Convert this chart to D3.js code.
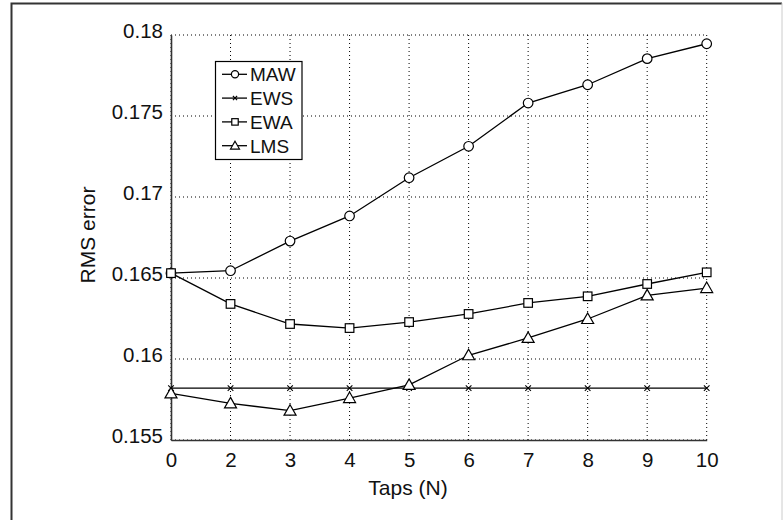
<!DOCTYPE html>
<html>
<head>
<meta charset="utf-8">
<script src="https://cdn.jsdelivr.net/npm/d3@7"></script>
<style>
  body { margin: 0; background: #fff; }
  svg { display: block; font-family: "Liberation Sans", Arial, sans-serif; }
</style>
</head>
<body>
<svg id="chart" width="784" height="520"></svg>
<script>
// taps on the x axis (note: no 1)
const taps = ["0", "2", "3", "4", "5", "6", "7", "8", "9", "10"];
const maw = [0.1653, 0.16545, 0.16728, 0.16883, 0.17119, 0.17313, 0.1758, 0.17693, 0.17854, 0.17946];
const ews = [0.1582, 0.1582, 0.1582, 0.1582, 0.1582, 0.1582, 0.1582, 0.1582, 0.1582, 0.1582];
const ewa = [0.1653, 0.1634, 0.16216, 0.16191, 0.16228, 0.16278, 0.16346, 0.16387, 0.16463, 0.16535];
const lms = [0.15788, 0.15726, 0.15681, 0.15759, 0.1584, 0.16023, 0.1613, 0.16247, 0.16393, 0.16438];
const yTicks = [0.155, 0.16, 0.165, 0.17, 0.175, 0.18];
const seriesNames = ["MAW", "EWS", "EWA", "LMS"];
const markers = ["circle", "cross", "square", "triangle"];

const svg = d3.select("#chart");
const pLeft = 171, pRight = 706.7, pTop = 35, pBottom = 440;

const x = d3.scalePoint().domain(taps).range([pLeft, pRight]);
const y = d3.scaleLinear().domain([0.155, 0.18]).range([pBottom, pTop]);

// outer frame
svg.append("path")
  .attr("d", "M11.5,520 L11.5,3.5 L782,3.5")
  .attr("fill", "none").attr("stroke", "#333").attr("stroke-width", 2);
svg.append("line")
  .attr("x1", 782).attr("x2", 782).attr("y1", 3).attr("y2", 520)
  .attr("stroke", "#ccc").attr("stroke-width", 1);

// grid
const grid = svg.append("g").attr("stroke", "#000").attr("stroke-width", 1)
  .attr("stroke-dasharray", "1,3");
grid.selectAll(".gx").data(taps).enter().append("line")
  .attr("x1", d => x(d)).attr("x2", d => x(d))
  .attr("y1", pBottom).attr("y2", pTop);
grid.selectAll(".gy").data(yTicks).enter().append("line")
  .attr("x1", pLeft).attr("x2", pRight)
  .attr("y1", d => y(d)).attr("y2", d => y(d));

// axes (solid left + bottom)
const xAxis = svg.append("g").attr("transform", `translate(0,${pBottom})`)
  .call(d3.axisBottom(x).tickSize(0).tickPadding(12));
const yAxis = svg.append("g").attr("transform", `translate(${pLeft},0)`)
  .call(d3.axisLeft(y).tickValues(yTicks).tickSize(0).tickPadding(8)
    .tickFormat(d => String(+d.toFixed(3))));
[xAxis, yAxis].forEach(a => {
  a.select(".domain").attr("stroke", "#333").attr("stroke-width", 1.6);
  a.selectAll("text").attr("font-size", 20.5).attr("fill", "#111")
    .attr("font-family", "'Liberation Sans', Arial, sans-serif");
});
yAxis.selectAll("text").attr("dy", "0.1em");

// axis titles
svg.append("text").attr("x", 408).attr("y", 495).attr("text-anchor", "middle")
  .attr("font-size", 21).attr("fill", "#111").text("Taps (N)");
svg.append("text").attr("transform", "translate(95,235) rotate(-90)")
  .attr("text-anchor", "middle").attr("font-size", 21).attr("fill", "#111").text("RMS error");

// markers
function drawMarker(g, kind, cx, cy, k) {
  if (kind === "circle") {
    g.append("circle").attr("cx", cx).attr("cy", cy).attr("r", 4.8 * k)
      .attr("fill", "#fff").attr("stroke", "#000").attr("stroke-width", 1.2);
  } else if (kind === "square") {
    const h = 4.3 * k;
    g.append("rect").attr("x", cx - h).attr("y", cy - h).attr("width", 2 * h).attr("height", 2 * h)
      .attr("fill", "#fff").attr("stroke", "#000").attr("stroke-width", 1.2);
  } else if (kind === "triangle") {
    g.append("path")
      .attr("d", `M${cx},${cy - 6 * k} L${cx + 6 * k},${cy + 4.5 * k} L${cx - 6 * k},${cy + 4.5 * k} Z`)
      .attr("fill", "#fff").attr("stroke", "#000").attr("stroke-width", 1.2);
  } else {
    const h = 2.8 * k;
    g.append("path")
      .attr("d", `M${cx - h},${cy - h} L${cx + h},${cy + h} M${cx - h},${cy + h} L${cx + h},${cy - h}`)
      .attr("stroke", "#000").attr("stroke-width", 1.1);
  }
}

const allSeries = [maw, ews, ewa, lms];
const line = d3.line().x((d, i) => x(taps[i])).y(d => y(d));
allSeries.forEach((vals, s) => {
  const g = svg.append("g");
  g.append("path").datum(vals).attr("d", line)
    .attr("fill", "none").attr("stroke", "#000").attr("stroke-width", 1.3);
  vals.forEach((v, i) => drawMarker(g, markers[s], x(taps[i]), y(v), 1));
});

// legend
const lg = svg.append("g");
lg.append("rect").attr("x", 215.5).attr("y", 61.5).attr("width", 86.5).attr("height", 98)
  .attr("fill", "#fff").attr("stroke", "#000").attr("stroke-width", 1.2);
seriesNames.forEach((name, i) => {
  const ly = 74.3 + i * 23.8;
  lg.append("line").attr("x1", 222).attr("x2", 247).attr("y1", ly).attr("y2", ly)
    .attr("stroke", "#000").attr("stroke-width", 1.3);
  drawMarker(lg, markers[i], 235, ly, 0.75);
  lg.append("text").attr("x", 250).attr("y", ly + 7).attr("font-size", 19)
    .attr("fill", "#111").text(name);
});
</script>
</body>
</html>
